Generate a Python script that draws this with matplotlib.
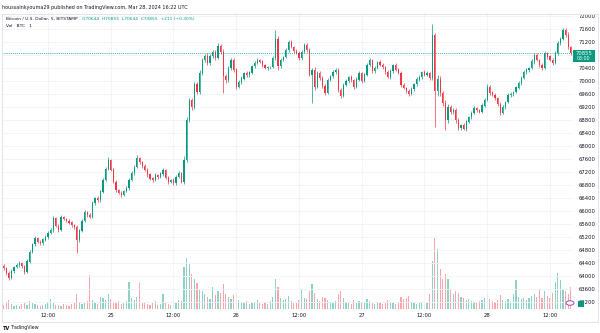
import numpy as np
import pandas as pd
import matplotlib
matplotlib.use("Agg")
import matplotlib.pyplot as plt
from matplotlib.patches import Rectangle, Circle

# 30 minute candles, Mar 24 03:30 -> Mar 28 16:00 (UTC)
times = pd.date_range("2024-03-24 03:30", periods=218, freq="30min")

close = [
    64250, 64100, 63950, 64150, 64280, 64340, 64400, 64310, 64120, 64450,
    64750, 64980, 65170, 65050, 65010, 65120, 65200, 65330, 65420, 65780,
    65550, 65420, 65800, 65760, 65700, 65650, 65560, 65500, 65100, 65400,
    65700, 65970, 65880, 65820, 66250, 66400, 66330, 66600, 66950, 67300,
    67560, 67280, 66900, 66650, 66560, 66490, 66620, 66710, 66950, 67170,
    67350, 67620, 67500, 67380, 67260, 67120, 67000, 66950, 67100, 67050,
    67150, 67260, 67020, 66890, 66950, 66860, 67050, 67170, 66900, 67580,
    68800, 69400, 69200, 69900, 69680, 70250, 70650, 70780, 70550, 70760,
    70880, 70720, 71080, 70900, 70150, 70020, 70400, 70650, 70350, 69820,
    69970, 70080, 70250, 70180, 70260, 70450, 70560, 70650, 70600, 70490,
    70400, 70420, 70430, 70700, 71300, 70450, 70650, 70740, 70950, 71200,
    71050, 70930, 70860, 70710, 70900, 71110, 70950, 70200, 70340, 69820,
    70250, 70100, 69850, 69650, 70030, 70150, 70280, 70340, 69720, 69550,
    69880, 70000, 70120, 70030, 69820, 70050, 70250, 70000, 70200, 70500,
    70640, 70300, 70400, 70590, 70500, 70430, 70280, 70120, 70300, 70490,
    70350, 70250, 69880, 69790, 69700, 69600, 69750, 69900, 70050, 70120,
    70280, 70200, 70250, 70090, 71400, 69700, 70050, 69630, 69320, 68800,
    69200, 69050, 69110, 68800, 68550, 68650, 68530, 68750, 68890, 69020,
    69170, 69100, 69050, 69250, 69420, 69820, 69650, 69570, 69480, 69300,
    69020, 69200, 69350, 69570, 69600, 69660, 69800, 69940, 70100, 70280,
    70350, 70400, 70600, 70800, 70650, 70500, 70400, 70860, 70750, 70650,
    70560, 70850, 71170, 71300, 71570, 71420, 71050, 70855,
]
first_open = 64300

wick_up = [
    60, 40, 50, 70, 40, 60, 50, 30, 40, 60,
    50, 40, 70, 30, 60, 40, 50, 40, 60, 80,
    40, 50, 70, 40, 30, 60, 40, 50, 60, 40,
    50, 60, 40, 70, 50, 40, 60, 50, 80, 60,
    90, 40, 50, 60, 30, 50, 40, 60, 70, 50,
    60, 100, 50, 40, 60, 50, 40, 50, 60, 40,
    50, 70, 40, 50, 40, 60, 50, 60, 40, 120,
    100, 80, 90, 60, 70, 80, 60, 50, 70, 60,
    70, 60, 90, 50, 80, 60, 50, 70, 60, 40,
    50, 60, 40, 50, 60, 40, 50, 60, 40, 50,
    40, 50, 40, 60, 270, 80, 50, 40, 60, 70,
    50, 40, 60, 50, 40, 60, 50, 60, 70, 90,
    60, 50, 40, 70, 50, 40, 60, 50, 60, 70,
    50, 60, 40, 50, 40, 60, 50, 40, 60, 50,
    60, 40, 50, 40, 60, 50, 40, 50, 60, 40,
    50, 40, 60, 50, 40, 60, 50, 40, 60, 50,
    40, 50, 60, 40, 350, 80, 120, 90, 70, 100,
    80, 60, 70, 50, 60, 40, 50, 60, 40, 50,
    60, 40, 50, 60, 50, 80, 60, 40, 50, 40,
    50, 60, 40, 50, 60, 40, 50, 60, 40, 50,
    60, 40, 70, 60, 50, 40, 60, 50, 40, 60,
    50, 60, 70, 60, 50, 60, 90, 40,
]
wick_dn = [
    50, 60, 80, 40, 50, 40, 60, 50, 70, 40,
    40, 50, 60, 40, 50, 60, 40, 50, 40, 60,
    50, 60, 40, 50, 40, 60, 50, 40, 390, 60,
    40, 50, 60, 40, 50, 60, 40, 50, 60, 40,
    50, 60, 40, 70, 50, 60, 40, 50, 60, 40,
    50, 40, 60, 50, 40, 60, 50, 70, 40, 50,
    40, 60, 50, 70, 40, 50, 60, 40, 50, 60,
    80, 70, 90, 60, 80, 70, 60, 80, 60, 50,
    60, 70, 50, 80, 520, 90, 60, 50, 70, 80,
    50, 60, 40, 50, 60, 40, 50, 40, 60, 50,
    40, 50, 60, 40, 50, 110, 60, 50, 40, 60,
    50, 60, 40, 50, 60, 40, 50, 60, 880, 90,
    50, 60, 70, 80, 50, 40, 60, 50, 60, 70,
    50, 40, 60, 50, 70, 40, 50, 60, 40, 50,
    40, 60, 50, 40, 50, 60, 50, 40, 60, 50,
    40, 50, 60, 50, 60, 70, 40, 50, 40, 60,
    50, 40, 60, 50, 60, 1110, 150, 100, 90, 310,
    80, 70, 60, 90, 60, 70, 50, 60, 40, 50,
    40, 60, 50, 40, 60, 50, 70, 40, 50, 60,
    70, 40, 50, 40, 60, 50, 40, 60, 50, 40,
    50, 60, 40, 70, 50, 60, 50, 40, 60, 50,
    60, 50, 40, 60, 50, 70, 60, 50,
]
volume = [
    40, 60, 90, 50, 30, 45, 35, 55, 70, 40,
    80, 60, 50, 40, 35, 45, 55, 70, 100, 60,
    45, 40, 35, 55, 40, 30, 50, 60, 150, 70,
    50, 60, 80, 340, 90, 60, 50, 120, 110, 90,
    150, 100, 70, 60, 80, 50, 60, 80, 270, 110,
    90, 120, 260, 70, 60, 50, 40, 60, 80, 45,
    55, 150, 60, 50, 45, 70, 60, 90, 80, 420,
    510, 450, 350, 300, 260, 200, 180, 150, 120, 100,
    220, 140, 180, 160, 250, 150, 120, 100, 140, 160,
    90, 70, 60, 80, 50, 60, 70, 90, 60, 50,
    60, 50, 80, 120, 300, 220, 110, 90, 100, 130,
    80, 60, 70, 90, 200, 110, 100, 180, 250, 160,
    100, 80, 120, 110, 90, 70, 60, 80, 150, 180,
    110, 70, 60, 50, 90, 60, 80, 70, 60, 100,
    80, 60, 50, 70, 60, 50, 60, 90, 70, 60,
    50, 60, 120, 100, 110, 130, 70, 60, 50, 60,
    70, 50, 60, 150, 480, 720, 600, 400, 300, 350,
    300, 200, 150, 180, 160, 120, 110, 90, 100, 80,
    70, 60, 80, 90, 110, 150, 100, 80, 70, 90,
    140, 90, 80, 100, 70, 150, 290, 120, 100, 110,
    90, 110, 130, 150, 120, 200, 110, 180, 130, 110,
    160, 270, 360, 290, 200, 180, 150, 220,
]

last_price = 70855
price_ticks = list(range(63200, 72001, 400))
time_ticks = ["2024-03-24 12:00", "2024-03-25 00:00", "2024-03-25 12:00",
              "2024-03-26 00:00", "2024-03-26 12:00", "2024-03-27 00:00",
              "2024-03-27 12:00", "2024-03-28 00:00", "2024-03-28 12:00"]
time_labels = ["12:00", "25", "12:00", "26", "12:00", "27", "12:00", "28", "12:00"]

UP = "#089981"
DOWN = "#f23645"
TXT = "#131722"

close = np.array(close, dtype=float)
opens = np.concatenate([[first_open], close[:-1]])
highs = np.maximum(opens, close) + np.array(wick_up)
lows = np.minimum(opens, close) - np.array(wick_dn)
is_up = close >= opens
colors = np.where(is_up, UP, DOWN)

W, H = 600, 333
fig = plt.figure(figsize=(6, 3.33), dpi=100)


def fx(x):
    return x / W


def fy(y):
    return 1 - y / H


ax = fig.add_axes([fx(2), fy(309), fx(573) - fx(2), fy(13) - fy(309)])
vax = ax.twinx()
ax.set_zorder(vax.get_zorder() + 1)
ax.patch.set_visible(False)

# volume
bw = pd.Timedelta(minutes=14)
vax.bar(times, volume, width=bw, color=colors, alpha=0.45, linewidth=0)
vax.set_ylim(0, 2960)
vax.set_yticks([])
for s in vax.spines.values():
    s.set_visible(False)

# candles
ax.vlines(times, lows, highs, colors=colors, linewidth=0.5)
ax.bar(times, np.abs(close - opens) + 8, bottom=np.minimum(opens, close) - 4,
       width=bw, color=colors, linewidth=0)

ax.axhline(last_price, color=UP, linestyle=(0, (1, 1.5)), linewidth=0.6)

ax.set_ylim(62985, 72092)
ax.set_xlim(pd.Timestamp("2024-03-24 03:12"), pd.Timestamp("2024-03-28 16:25"))
ax.set_yticks(price_ticks)
# the 70800 label sits under the last-price box
ax.set_yticklabels(["" if p == 70800 else str(p) for p in price_ticks])
ax.yaxis.tick_right()
ax.tick_params(axis="y", length=0, pad=4, labelsize=3.8, labelcolor=TXT)
ax.set_xticks(pd.to_datetime(time_ticks))
ax.set_xticklabels(time_labels)
ax.tick_params(axis="x", length=0, pad=3, labelsize=3.8, labelcolor=TXT)
ax.grid(True, color="#f0f3fa", linewidth=0.6)
ax.set_axisbelow(True)
vax.set_xlim(ax.get_xlim())
for s in ax.spines.values():
    s.set_visible(False)

# outer frame
fig.patches.append(Rectangle((fx(2), fy(322)), fx(598) - fx(2), fy(14) - fy(322),
                             transform=fig.transFigure, fill=False,
                             edgecolor="#e0e3eb", linewidth=0.7))

# last price label
fig.patches.append(Rectangle((fx(573), fy(62)), fx(22), fy(0) - fy(12),
                             transform=fig.transFigure, facecolor=UP,
                             edgecolor="none", zorder=5))
fig.text(fx(584), fy(53.5), "70855", color="white", fontsize=3.8,
         ha="center", va="center", zorder=6)
fig.text(fx(584), fy(59), "03:00", color="white", fontsize=3.4,
         ha="center", va="center", zorder=6)

# header texts
fig.text(fx(2), fy(7), "houssainkyouma29 published on TradingView.com, Mar 28, 2024 16:22 UTC",
         fontsize=3.5, color=TXT, va="center")
fig.text(fx(6), fy(19.5), "Bitcoin / U.S. Dollar, 5, BITSTAMP", fontsize=3.2,
         color=TXT, va="center")
fig.text(fx(82), fy(19.5), "O70644  H70855  L70644  C70855  +211 (+0.30%)",
         fontsize=3.2, color=UP, va="center")
fig.text(fx(6), fy(26), "Vol \u00b7 BTC   1", fontsize=3.2, color=TXT, va="center")

# bottom icons
fig.patches.append(Circle((fx(570), fy(303)), 4 / W, transform=fig.transFigure,
                          facecolor="white", edgecolor="#9c27b0", linewidth=0.6,
                          zorder=6))
fig.patches.append(Rectangle((fx(578), fy(307)), fx(6), fy(0) - fy(6),
                             transform=fig.transFigure, facecolor=UP,
                             edgecolor="none", zorder=6))
fig.text(fx(3), fy(328), "TV", fontsize=3.6, fontweight="bold", color=TXT, va="center")
fig.text(fx(11), fy(328), "TradingView", fontsize=3.4, color=TXT, va="center")

fig.savefig("out.png", dpi=100)
